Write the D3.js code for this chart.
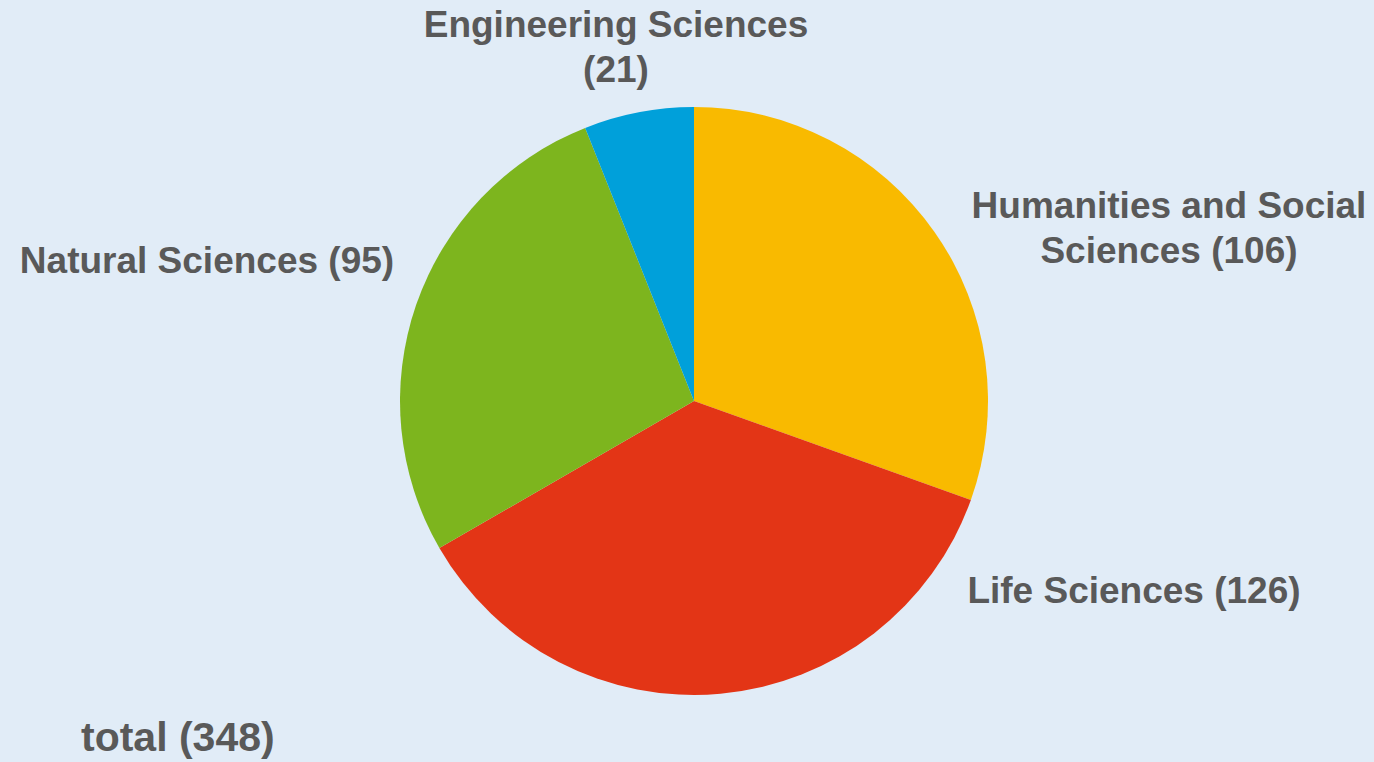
<!DOCTYPE html>
<html><head><meta charset="utf-8">
<script src="https://cdn.jsdelivr.net/npm/d3@7"></script>
<style>html,body{margin:0;padding:0;background:#E1ECF7;overflow:hidden}</style>
</head><body>
<svg id="c" width="1374" height="762"></svg>
<script>
const categories = ["Humanities and Social Sciences", "Life Sciences", "Natural Sciences", "Engineering Sciences"];
const values = [106, 126, 95, 21];
const colors = ["#F9BA00", "#E33516", "#7DB51E", "#00A0DA"];
const labelLines = [["Humanities and Social", "Sciences (106)"], ["Life Sciences (126)"], ["Natural Sciences (95)"], ["Engineering Sciences", "(21)"]];
const totalLabel = "total (348)";

const W = 1374, H = 762;
const svg = d3.select("#c");
svg.append("rect").attr("width", W).attr("height", H).attr("fill", "#E1ECF7");
const cx = 694, cy = 401, R = 294;
const pie = d3.pie().sort(null).value(d => d)(values);
const arc = d3.arc().innerRadius(0).outerRadius(R);
const g = svg.append("g").attr("transform", `translate(${cx},${cy})`);
g.selectAll("path").data(pie).join("path").attr("d", arc).attr("fill", (d, i) => colors[i]);

// label anchor positions (center x, first baseline y)
const labelPos = [[1169, 218, "middle"], [1134, 603, "middle"], [207, 273, "middle"], [616, 37, "middle"]];
const font = "'Liberation Sans', Arial, sans-serif";
labelLines.forEach((lines, i) => {
  const t = svg.append("text").attr("x", labelPos[i][0]).attr("y", labelPos[i][1])
    .attr("text-anchor", labelPos[i][2]).attr("font-family", font).attr("font-weight", "bold")
    .attr("font-size", 37).attr("fill", "#595959");
  lines.forEach((l, j) => t.append("tspan").attr("x", labelPos[i][0]).attr("dy", j === 0 ? 0 : 45).text(l));
});
svg.append("text").attr("x", 81).attr("y", 751).attr("font-family", font).attr("font-weight", "bold")
  .attr("font-size", 41).attr("fill", "#595959").text(totalLabel);
</script>
</body></html>
